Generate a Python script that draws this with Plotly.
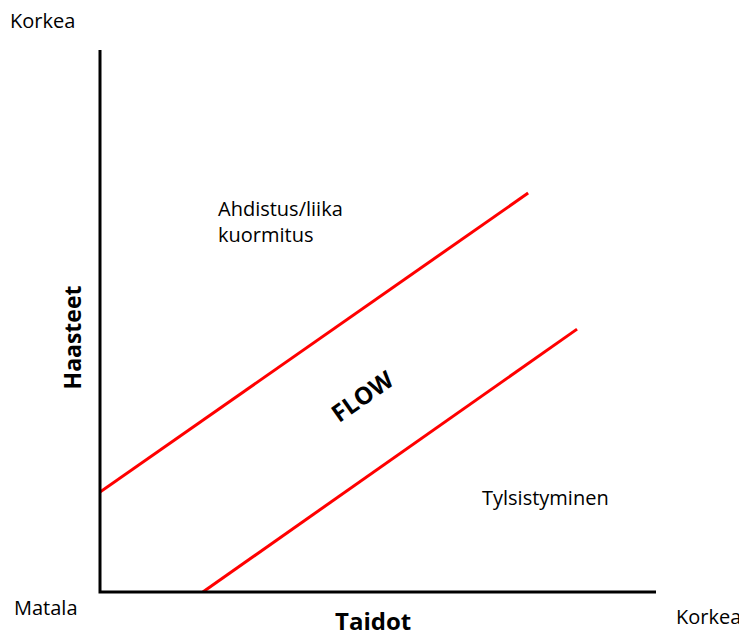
import plotly.graph_objects as go

# Data (axis units 0..10)
upper_x = [0.0, 7.70]
upper_y = [1.845, 7.36]
lower_x = [1.85, 8.58]
lower_y = [0.0, 4.85]

x_title = "Taidot"
y_title = "Haasteet"
low_label = "Matala"
high_label = "Korkea"
zone_labels = ["Ahdistus/liika<br>kuormitus", "FLOW", "Tylsistyminen"]

FONT = "Open Sans"

fig = go.Figure()
for xs, ys in [(upper_x, upper_y), (lower_x, lower_y)]:
    fig.add_trace(go.Scatter(x=xs, y=ys, mode="lines",
                             line=dict(color="#ff0000", width=3),
                             hoverinfo="skip", showlegend=False, cliponaxis=False))

# Axis lines as an L-shaped path
fig.add_shape(type="path", xref="paper", yref="paper",
              path="M 0,1 L 0,0 L 1,0", line=dict(color="black", width=3))


def a(x, y, text, ref, size, xanchor="center", angle=0, align="center"):
    return dict(x=x, y=y, xref=ref[0], yref=ref[1], text=text,
                xanchor=xanchor, yanchor="middle", align=align,
                textangle=angle, showarrow=False, borderpad=0,
                font=dict(size=size, color="black", family=FONT))


data_ref = ("x", "y")
paper_ref = ("paper", "paper")
ann = [
    a(2.10, 6.84, zone_labels[0], data_ref, 20, xanchor="left", align="left"),
    a(4.71, 3.63, "<b>" + zone_labels[1] + "</b>", data_ref, 24, angle=-35),
    a(8.01, 1.75, zone_labels[2], data_ref, 20),
    a(-0.104, 1.055, high_label, paper_ref, 20),
    a(-0.097, -0.028, low_label, paper_ref, 20),
    a(1.095, -0.046, high_label, paper_ref, 20),
    a(0.491, -0.052, "<b>" + x_title + "</b>", paper_ref, 24),
    a(-0.050, 0.470, "<b>" + y_title + "</b>", paper_ref, 23, angle=-90),
]

fig.update_layout(
    width=739, height=628,
    margin=dict(l=92, r=91, t=42, b=44, autoexpand=False),
    paper_bgcolor="white", plot_bgcolor="white",
    xaxis=dict(range=[0, 10], visible=False, fixedrange=True),
    yaxis=dict(range=[0, 10], visible=False, fixedrange=True),
    annotations=ann,
    showlegend=False,
)

fig.write_html("out.html")
